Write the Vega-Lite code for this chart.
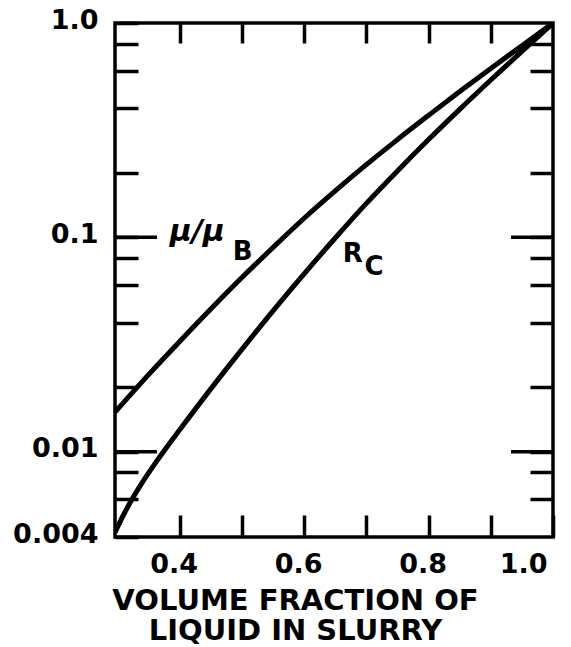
{
  "$schema": "https://vega.github.io/schema/vega-lite/v6.json",
  "width": 438,
  "height": 514,
  "autosize": "none",
  "padding": {"left": 115, "top": 23, "right": 18, "bottom": 110},
  "background": "white",
  "config": {
    "view": {"stroke": "black", "strokeWidth": 3.5},
    "axis": {
      "domain": false,
      "grid": false,
      "tickColor": "black",
      "tickWidth": 3.5,
      "labelColor": "black",
      "labelFont": "DejaVu Sans",
      "labelFontWeight": "bold",
      "labelFontSize": 27,
      "titleFont": "DejaVu Sans",
      "titleFontWeight": "bold",
      "titleFontSize": 29,
      "titleColor": "black"
    }
  },
  "layer": [
    {
      "data": {
        "values": [
          {"series": "mu", "x": 0.296, "y": 0.0153},
          {"series": "mu", "x": 0.35, "y": 0.0229},
          {"series": "mu", "x": 0.4, "y": 0.0327},
          {"series": "mu", "x": 0.45, "y": 0.0463},
          {"series": "mu", "x": 0.5, "y": 0.0649},
          {"series": "mu", "x": 0.55, "y": 0.0897},
          {"series": "mu", "x": 0.6, "y": 0.1228},
          {"series": "mu", "x": 0.65, "y": 0.1648},
          {"series": "mu", "x": 0.7, "y": 0.2183},
          {"series": "mu", "x": 0.75, "y": 0.2858},
          {"series": "mu", "x": 0.8, "y": 0.3707},
          {"series": "mu", "x": 0.85, "y": 0.4786},
          {"series": "mu", "x": 0.9, "y": 0.6138},
          {"series": "mu", "x": 0.95, "y": 0.7834},
          {"series": "mu", "x": 1.0, "y": 1.0},
          {"series": "rc", "x": 0.296, "y": 0.004207},
          {"series": "rc", "x": 0.31, "y": 0.005093},
          {"series": "rc", "x": 0.325, "y": 0.006116},
          {"series": "rc", "x": 0.34, "y": 0.007194},
          {"series": "rc", "x": 0.36, "y": 0.00877},
          {"series": "rc", "x": 0.38, "y": 0.010568},
          {"series": "rc", "x": 0.4, "y": 0.012647},
          {"series": "rc", "x": 0.45, "y": 0.019634},
          {"series": "rc", "x": 0.5, "y": 0.03},
          {"series": "rc", "x": 0.55, "y": 0.0454},
          {"series": "rc", "x": 0.6, "y": 0.0676},
          {"series": "rc", "x": 0.65, "y": 0.0993},
          {"series": "rc", "x": 0.7, "y": 0.144},
          {"series": "rc", "x": 0.75, "y": 0.2042},
          {"series": "rc", "x": 0.8, "y": 0.2858},
          {"series": "rc", "x": 0.85, "y": 0.3954},
          {"series": "rc", "x": 0.9, "y": 0.542},
          {"series": "rc", "x": 0.95, "y": 0.7379},
          {"series": "rc", "x": 1.0, "y": 1.0}
        ]
      },
      "mark": {"type": "line", "color": "black", "strokeWidth": 5, "interpolate": "monotone", "clip": true},
      "encoding": {
        "x": {
          "field": "x", "type": "quantitative",
          "scale": {"domain": [0.296, 1.0], "nice": false, "zero": false},
          "axis": {
            "orient": "bottom",
            "values": [0.4, 0.5, 0.6, 0.7, 0.8, 0.9, 1.0],
            "labelExpr": "(datum.value == 0.4 || datum.value == 0.6 || datum.value == 0.8 || datum.value == 1) ? format(datum.value, '.1f') : ''",
            "tickSize": -22,
            "labelPadding": 36,
            "labelOffset": -6,
            "title": ["VOLUME FRACTION OF", "LIQUID IN SLURRY"],
            "titleLineHeight": 30,
            "titleX": 180,
            "titlePadding": 9
          }
        },
        "y": {
          "field": "y", "type": "quantitative",
          "scale": {"type": "log", "domain": [0.004, 1.0], "nice": false},
          "axis": {
            "orient": "left",
            "values": [0.004, 0.006, 0.008, 0.01, 0.02, 0.04, 0.06, 0.08, 0.1, 0.2, 0.4, 0.6, 0.8, 1.0],
            "labelExpr": "datum.value == 1 ? '1.0' : ((datum.value == 0.1 || datum.value == 0.01 || datum.value == 0.004) ? toString(datum.value) : '')",
            "tickSize": -23,
            "labelPadding": 40,
            "labelOffset": -3,
            "title": null
          }
        },
        "detail": {"field": "series"}
      }
    },
    {
      "encoding": {
        "x": {
          "field": "x", "type": "quantitative",
          "scale": {"domain": [0.296, 1.0], "nice": false, "zero": false},
          "axis": {"orient": "top", "values": [0.4, 0.5, 0.6, 0.7, 0.8, 0.9], "labels": false, "tickSize": -20, "title": null}
        },
        "y": {
          "field": "y", "type": "quantitative",
          "scale": {"type": "log", "domain": [0.004, 1.0], "nice": false},
          "axis": {
            "orient": "right",
            "values": [0.006, 0.008, 0.01, 0.02, 0.04, 0.06, 0.08, 0.1, 0.2, 0.4, 0.6, 0.8],
            "labels": false,
            "tickSize": -23,
            "title": null
          }
        }
      },
      "layer": [
        {
          "data": {
            "values": [
              {"x": 0.296, "y": 0.1},
              {"x": 0.296, "y": 0.01},
              {"x": 1.0, "y": 0.1},
              {"x": 1.0, "y": 0.01}
            ]
          },
          "mark": {"type": "tick", "orient": "horizontal", "size": 84, "thickness": 3.5, "color": "black", "opacity": 1, "clip": true}
        },
        {
          "data": {"values": [{"x": 0.384, "y": 0.0961, "t": "μ/μ"}]},
          "mark": {"type": "text", "align": "left", "baseline": "alphabetic", "font": "DejaVu Sans", "fontWeight": "bold", "fontStyle": "italic", "fontSize": 30, "color": "black"},
          "encoding": {"text": {"field": "t"}}
        },
        {
          "data": {
            "values": [
              {"x": 0.4854, "y": 0.0783, "t": "B"},
              {"x": 0.662, "y": 0.0767, "t": "R"},
              {"x": 0.697, "y": 0.0667, "t": "C"}
            ]
          },
          "mark": {"type": "text", "align": "left", "baseline": "alphabetic", "font": "DejaVu Sans", "fontWeight": "bold", "fontSize": 26, "color": "black"},
          "encoding": {"text": {"field": "t"}}
        }
      ]
    }
  ],
  "resolve": {"scale": {"x": "independent", "y": "independent"}}
}
